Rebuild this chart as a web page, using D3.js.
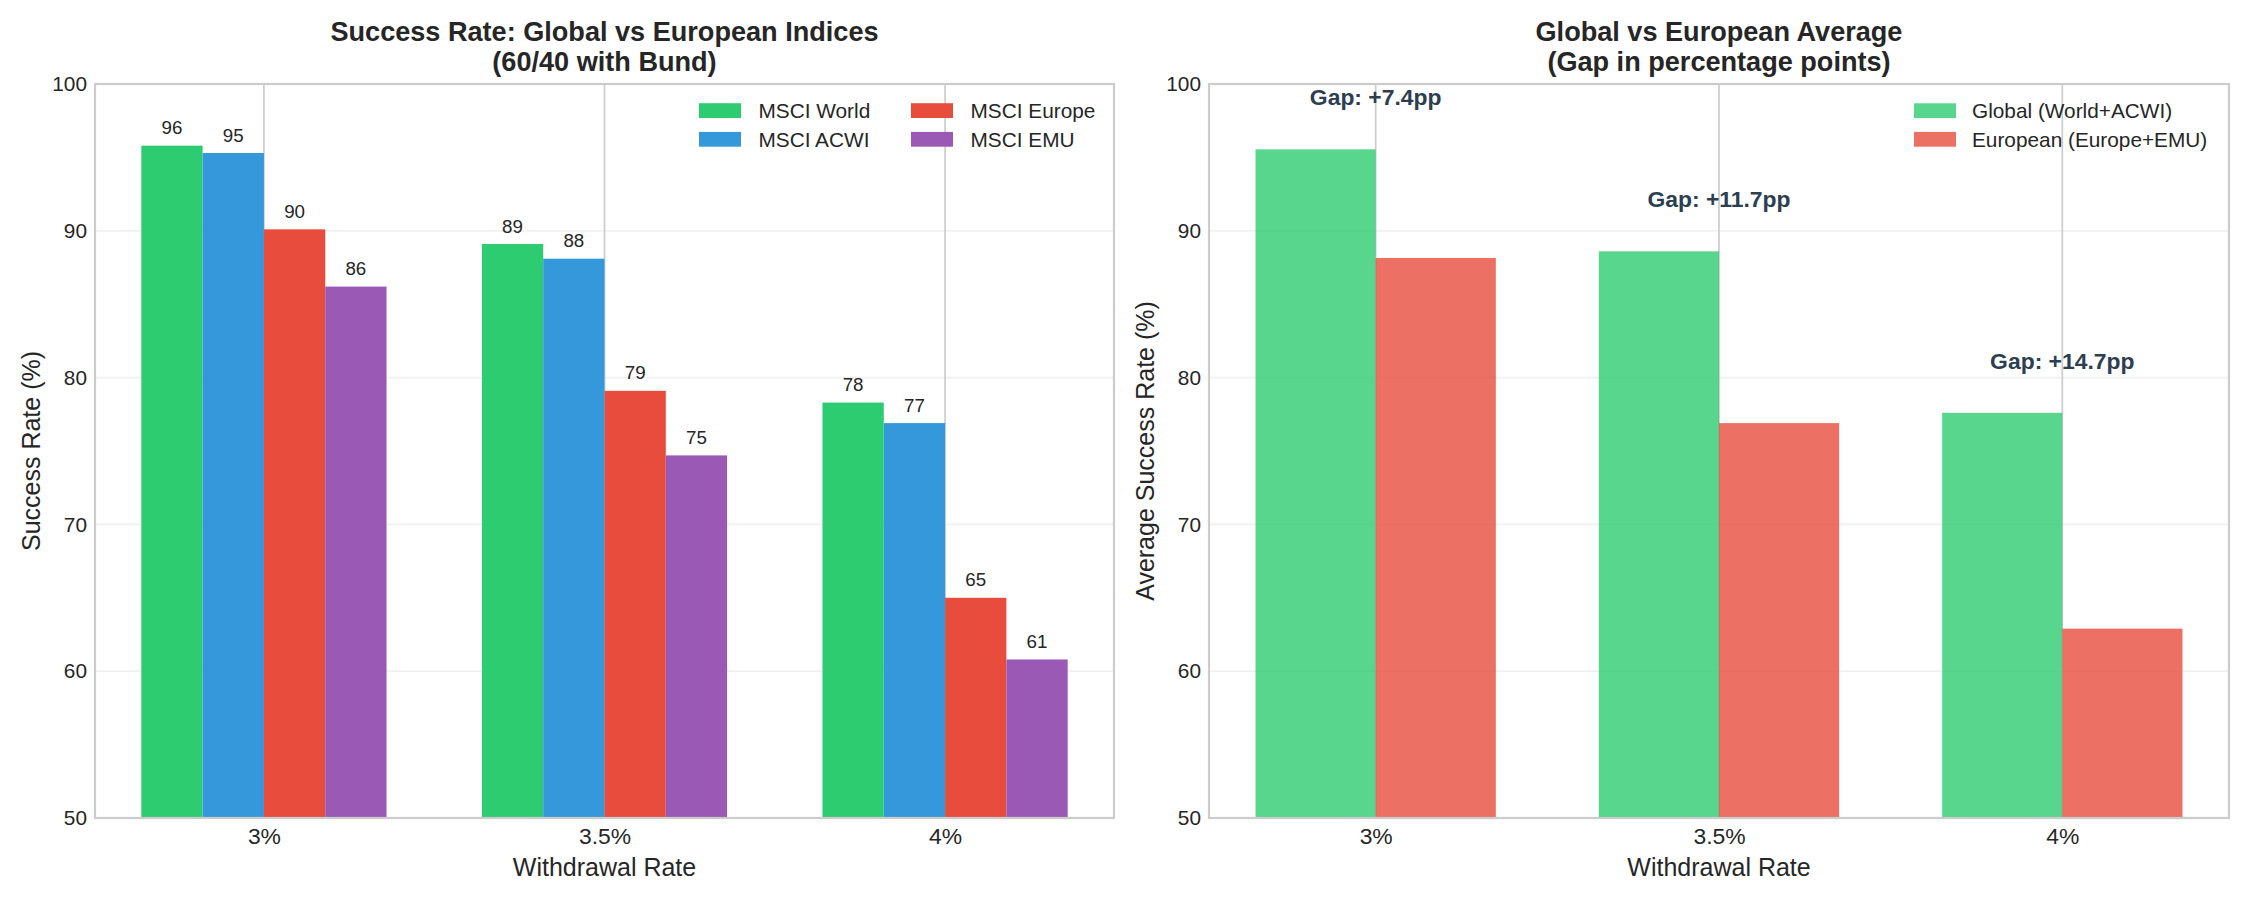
<!DOCTYPE html>
<html>
<head>
<meta charset="utf-8">
<script src="https://cdn.jsdelivr.net/npm/d3@7"></script>
<style>
  body { margin: 0; background: #fff; }
  text { font-family: "Liberation Sans", Arial, sans-serif; fill: #262626; }
</style>
</head>
<body>
<div id="chart"></div>
<script>
const width = 2250
const height = 900

// data
const rates = ["3%", "3.5%", "4%"]
const msciWorld = [95.8, 89.1, 78.3]
const msciAcwi = [95.3, 88.1, 76.9]
const msciEurope = [90.1, 79.1, 65.0]
const msciEmu = [86.2, 74.7, 60.8]
const globalAvg = [95.55, 88.6, 77.6]
const europeanAvg = [88.15, 76.9, 62.9]
const gapLabels = ["Gap: +7.4pp", "Gap: +11.7pp", "Gap: +14.7pp"]
const yTicks = [50, 60, 70, 80, 90, 100]

const indexNames = ["MSCI World", "MSCI ACWI", "MSCI Europe", "MSCI EMU"]
const indexColors = ["#2ecc71", "#3498db", "#e74c3c", "#9b59b6"]
const avgNames = ["Global (World+ACWI)", "European (Europe+EMU)"]
const avgColors = ["#2ecc71", "#e74c3c"]

const plotTop = 84, plotBottom = 818

const svg = d3.select("#chart")
    .append("svg")
    .attr("width", width)
    .attr("height", height)
    .style("background-color", "#fff");

const y = d3.scaleLinear().domain([50, 100]).range([plotBottom, plotTop]);

function frame(x, x0, x1, title1, title2, ylabel, ylabelX) {
    const g = svg.append("g");

    // horizontal grid (light) and vertical grid at categories
    g.selectAll(".hgrid")
        .data(yTicks.slice(1, -1))
        .enter()
        .append("line")
        .attr("x1", x0).attr("x2", x1)
        .attr("y1", d => y(d)).attr("y2", d => y(d))
        .attr("stroke", "#f0f0f0")
        .attr("stroke-width", 1.7);
    g.selectAll(".vgrid")
        .data(rates)
        .enter()
        .append("line")
        .attr("x1", (d, i) => x(i)).attr("x2", (d, i) => x(i))
        .attr("y1", plotTop).attr("y2", plotBottom)
        .attr("stroke", "#cccccc")
        .attr("stroke-width", 1.7);

    const yAxis = g.append("g")
        .attr("transform", `translate(${x0},0)`)
        .call(d3.axisLeft(y).tickValues(yTicks).tickSize(0).tickPadding(8));
    yAxis.select(".domain").remove();
    yAxis.selectAll("text")
        .style("font-size", "20.8px")
        .attr("fill", "#262626");

    const xAxis = g.append("g")
        .attr("transform", `translate(0,${plotBottom})`)
        .call(d3.axisBottom(x).tickValues([0, 1, 2]).tickFormat(i => rates[i]).tickSize(0).tickPadding(10));
    xAxis.select(".domain").remove();
    xAxis.selectAll("text")
        .style("font-size", "22.9px")
        .attr("fill", "#262626");

    svg.append("text")
        .attr("x", (x0 + x1) / 2)
        .attr("y", 876)
        .attr("text-anchor", "middle")
        .style("font-size", "25px")
        .text("Withdrawal Rate");

    svg.append("text")
        .attr("transform", `translate(${ylabelX},${(plotTop + plotBottom) / 2}) rotate(-90)`)
        .attr("text-anchor", "middle")
        .style("font-size", "25px")
        .text(ylabel);

    const t = svg.append("text")
        .attr("text-anchor", "middle")
        .style("font-size", "27.1px")
        .style("font-weight", "bold");
    t.append("tspan").attr("x", (x0 + x1) / 2).attr("y", 40.7).text(title1);
    t.append("tspan").attr("x", (x0 + x1) / 2).attr("y", 71).text(title2);

    return g;
}

function spines(x0, x1) {
    svg.append("rect")
        .attr("x", x0).attr("y", plotTop)
        .attr("width", x1 - x0).attr("height", plotBottom - plotTop)
        .attr("fill", "none")
        .attr("stroke", "#cccccc")
        .attr("stroke-width", 2.2);
}

// ---- left panel: four indices
const xl = d3.scaleLinear().domain([-0.496, 2.496]).range([95, 1114]);
frame(xl, 95, 1114, "Success Rate: Global vs European Indices", "(60/40 with Bund)", "Success Rate (%)", 39.5);

const barW = 0.18
const indexSeries = [msciWorld, msciAcwi, msciEurope, msciEmu]

indexSeries.forEach((vals, s) => {
    const off = (s - 1.5) * barW
    svg.append("g")
        .selectAll("rect")
        .data(vals)
        .enter()
        .append("rect")
        .attr("x", (d, i) => xl(i + off - barW / 2))
        .attr("y", d => y(d))
        .attr("width", xl(barW) - xl(0))
        .attr("height", d => y(50) - y(d))
        .attr("fill", indexColors[s]);

    svg.append("g")
        .selectAll("text")
        .data(vals)
        .enter()
        .append("text")
        .attr("x", (d, i) => xl(i + off))
        .attr("y", d => y(d + 0.5) - 4)
        .attr("text-anchor", "middle")
        .style("font-size", "18.75px")
        .text(d => d.toFixed(0));
});
spines(95, 1114);

const legL = svg.append("g");
indexNames.forEach((name, s) => {
    const col = Math.floor(s / 2), row = s % 2
    const lx = col === 0 ? 699 : 911
    const ly = 110.6 + row * 28.7
    legL.append("rect")
        .attr("x", lx).attr("y", ly - 7.4)
        .attr("width", 42).attr("height", 14.8)
        .attr("fill", indexColors[s]);
    legL.append("text")
        .attr("x", lx + 59.5).attr("y", ly)
        .attr("dy", "0.35em")
        .style("font-size", "20.8px")
        .text(name);
});

// ---- right panel: averages
const xr = d3.scaleLinear().domain([-0.4855, 2.4855]).range([1209, 2229]);
frame(xr, 1209, 2229, "Global vs European Average", "(Gap in percentage points)", "Average Success Rate (%)", 1153.5);

const avgW = 0.35
const avgSeries = [globalAvg, europeanAvg]

avgSeries.forEach((vals, s) => {
    const off = (s - 0.5) * avgW
    svg.append("g")
        .selectAll("rect")
        .data(vals)
        .enter()
        .append("rect")
        .attr("x", (d, i) => xr(i + off - avgW / 2))
        .attr("y", d => y(d))
        .attr("width", xr(avgW) - xr(0))
        .attr("height", d => y(50) - y(d))
        .attr("fill", avgColors[s])
        .attr("fill-opacity", 0.8);
});

svg.append("g")
    .selectAll("text")
    .data(gapLabels)
    .enter()
    .append("text")
    .attr("x", (d, i) => xr(i))
    .attr("y", (d, i) => y(globalAvg[i] + 3))
    .attr("text-anchor", "middle")
    .style("font-size", "22.9px")
    .style("font-weight", "bold")
    .style("fill", "#2c3e50")
    .text(d => d);
spines(1209, 2229);

const legR = svg.append("g");
avgNames.forEach((name, s) => {
    const ly = 110.7 + s * 28.6
    legR.append("rect")
        .attr("x", 1914).attr("y", ly - 7.4)
        .attr("width", 42).attr("height", 14.8)
        .attr("fill", avgColors[s])
        .attr("fill-opacity", 0.8);
    legR.append("text")
        .attr("x", 1972).attr("y", ly)
        .attr("dy", "0.35em")
        .style("font-size", "20.8px")
        .text(name);
});
</script>
</body>
</html>
